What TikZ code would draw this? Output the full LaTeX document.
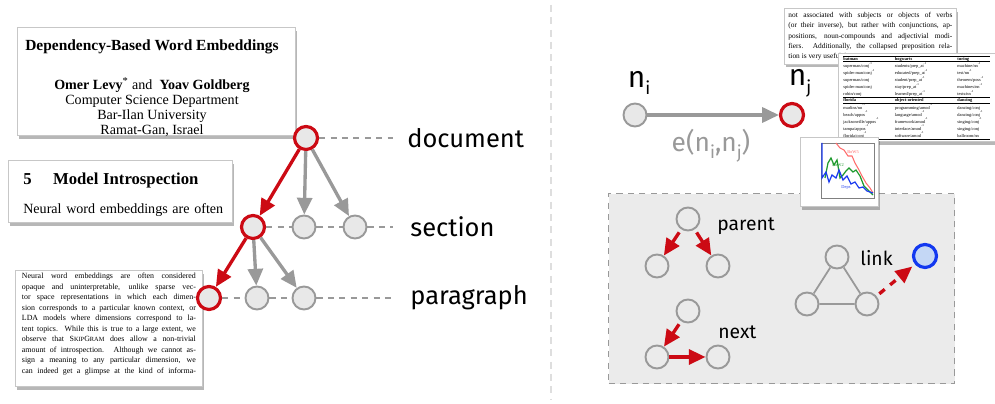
\documentclass[tikz,border=0pt]{standalone}
\usepackage{fontspec}
\setmainfont{Liberation Serif}
\newfontfamily\labelfont{Fira Sans}
\usetikzlibrary{arrows.meta,shadows}

\definecolor{nodefill}{HTML}{E8E8E8}
\definecolor{edgegray}{HTML}{999999}
\definecolor{pathred}{HTML}{CC0A14}
\definecolor{boxfill}{HTML}{EBEBEB}
\definecolor{linkfill}{HTML}{C4D7F5}
\definecolor{linkblue}{HTML}{1238F0}
\definecolor{curvered}{HTML}{FF6B6B}
\definecolor{curvegreen}{HTML}{1E9A2E}
\definecolor{curveblue}{HTML}{1C3CF0}

\newcommand{\inv}{\textsuperscript{-1}}
\newcommand{\lowsub}[1]{\raisebox{-0.5ex}{\fontsize{10}{10}\selectfont #1}}

\tikzset{
  treenode/.style={circle,draw=edgegray,fill=nodefill,line width=1.1pt,minimum size=0.46cm,inner sep=0pt},
  onpath/.style={draw=pathred,line width=1.8pt},
  ctxnode/.style={circle,draw=edgegray,line width=1.1pt,minimum size=0.46cm,inner sep=0pt},
  grayarrow/.style={draw=edgegray,line width=1.9pt,-{Triangle[length=9.5pt,width=8.5pt]}},
  redarrow/.style={draw=pathred,line width=1.9pt,-{Triangle[length=9.5pt,width=8.5pt]}},
  levelline/.style={draw=edgegray,line width=0.9pt,dash pattern=on 3.5pt off 3pt},
  paper/.style={draw=black!22,fill=white,line width=0.5pt,inner sep=0pt,
    drop shadow={opacity=0.4,fill=black!70,shadow xshift=1pt,shadow yshift=-1.8pt}},
  levellabel/.style={font=\labelfont\fontsize{14.5}{17}\selectfont,anchor=west,inner sep=0pt},
  ctxlabel/.style={font=\labelfont\fontsize{11}{13}\selectfont,anchor=west,inner sep=0pt},
}

\begin{document}
\begin{tikzpicture}[x=0.02cm,y=-0.02cm]
	\useasboundingbox (0,0) rectangle (995,404);

	% pages of the paper
	\node[paper,anchor=north west,minimum width=5.56cm,minimum height=2.16cm] (titlepg) at (17,27) {};
	\node[anchor=north,inner sep=0pt,align=center,font=\fontsize{8}{8.6}\selectfont] (titletxt) at (152,39) {%
		{\fontsize{8.8}{11}\selectfont\bfseries Dependency-Based Word Embeddings}\\[12.5pt]
		\textbf{Omer Levy}\textsuperscript{*} and \ \textbf{Yoav Goldberg}\\
		Computer Science Department\\
		Bar-Ilan University\\
		Ramat-Gan, Israel};
	\node[paper,anchor=north west,minimum width=4.48cm,minimum height=1.24cm] (secpg) at (8,160) {};
	\node[anchor=north west,inner sep=0pt,text width=4.12cm,
		font=\fontsize{8}{16}\selectfont] (sectxt) at (23,173) {%
		{\fontsize{9.5}{11}\selectfont\bfseries 5\quad\ Model Introspection}\\
		\makebox[4.12cm][s]{Neural word embeddings are often}};
	\node[paper,anchor=north west,text width=3.48cm,inner xsep=0.13cm,inner ysep=0.05cm,align=justify,
		font=\fontsize{4.5}{6.0}\selectfont] (parapg) at (15,270) {%
		Neural word embeddings are often considered\linebreak
		opaque and uninterpretable, unlike sparse vec-\linebreak
		tor space representations in which each dimen-\linebreak
		sion corresponds to a particular known context, or\linebreak
		LDA models where dimensions correspond to la-\linebreak
		tent topics. While this is true to a large extent, we\linebreak
		observe that S{\fontsize{3.6}{6}\selectfont KIP}G{\fontsize{3.6}{6}\selectfont RAM} does allow a non-trivial\linebreak
		amount of introspection. Although we cannot as-\linebreak
		sign a meaning to any particular dimension, we\linebreak
		can indeed get a glimpse at the kind of informa-\linebreak};

	% tree
	\node[treenode,onpath] (doc) at (306,138) {};
	\node[treenode,onpath] (sec1) at (253,227) {};
	\node[treenode] (sec2) at (304,227) {};
	\node[treenode] (sec3) at (355,227) {};
	\node[treenode,onpath] (par1) at (209,298) {};
	\node[treenode] (par2) at (257,298) {};
	\node[treenode] (par3) at (304,298) {};

	\node[levellabel] (doclbl) at (407,138) {document};
	\node[levellabel] (seclbl) at (410,227) {section};
	\node[levellabel] (parlbl) at (410,298) {paragraph};

	\draw[levelline,shorten >=0.28cm] (doc) -- (doclbl);
	\draw[levelline] (sec1) -- (sec2);
	\draw[levelline] (sec2) -- (sec3);
	\draw[levelline,shorten >=0.34cm] (sec3) -- (seclbl);
	\draw[levelline] (par1) -- (par2);
	\draw[levelline] (par2) -- (par3);
	\draw[levelline,shorten >=0.34cm] (par3) -- (parlbl);

	\draw[redarrow] (doc) -- (sec1);
	\draw[grayarrow] (doc) -- (sec2);
	\draw[grayarrow] (doc) -- (sec3);
	\draw[redarrow] (sec1) -- (par1);
	\draw[grayarrow] (sec1) -- (par2);
	\draw[grayarrow] (sec1) -- (par3);

	% divider
	\draw[black!13,line width=1.2pt,dash pattern=on 4pt off 3pt] (551,5) -- (551,400);

	% edge between two nodes
	\node[treenode] (ni) at (635,115) {};
	\node[treenode,onpath] (nj) at (792,115) {};
	\draw[grayarrow] (ni) -- (nj);
	\node[font=\labelfont\fontsize{17}{19}\selectfont] (nilbl) at (639,83) {n\lowsub{i}};
	\node[font=\labelfont\fontsize{17}{19}\selectfont] (njlbl) at (800,83) {n\lowsub{j}};
	\node[font=\labelfont\fontsize{15}{17}\selectfont,text=edgegray] (elbl) at (711,146)
		{e(n\lowsub{i},n\lowsub{j})};

	% context box
	\node[draw=edgegray,fill=boxfill,line width=0.8pt,dash pattern=on 3.5pt off 3pt,anchor=north west,
		minimum width=6.92cm,minimum height=3.8cm] (ctxbox) at (608,193) {};

	\node[ctxnode] (ptop) at (688,219) {};
	\node[ctxnode] (pleft) at (657,266) {};
	\node[ctxnode] (pright) at (718,266) {};
	\draw[redarrow,shorten <=2pt] (ptop) -- (pleft);
	\draw[redarrow,shorten <=2pt] (ptop) -- (pright);
	\node[ctxlabel] (plbl) at (717,226) {parent};

	\node[ctxnode] (ntop) at (688,311) {};
	\node[ctxnode] (nleft) at (657,357) {};
	\node[ctxnode] (nright) at (718,357) {};
	\draw[redarrow,shorten <=2pt] (ntop) -- (nleft);
	\draw[redarrow] (nleft) -- (nright);
	\node[ctxlabel] (nlbl) at (718,332) {next};

	\node[ctxnode] (ltop) at (837,257) {};
	\node[ctxnode] (lleft) at (807,304) {};
	\node[ctxnode] (lright) at (867,304) {};
	\node[circle,draw=linkblue,fill=linkfill,line width=1.8pt,minimum size=0.46cm,inner sep=0pt] (lnew) at (925,256) {};
	\draw[edgegray,line width=1pt] (ltop) -- (lleft) -- (lright) -- (ltop);
	\draw[redarrow,dash pattern=on 4pt off 4pt,shorten <=2pt,shorten >=2pt] (lright) -- (lnew);
	\node[ctxlabel] (llbl) at (860,258) {link};

	% snippets of the paper
	\node[paper,anchor=north west,text width=3.28cm,inner xsep=0.08cm,inner ysep=0.08cm,align=justify,
		font=\fontsize{4.2}{5.8}\selectfont] (txtpg) at (784,8) {%
		not associated with subjects or objects of verbs\linebreak
		(or their inverse), but rather with conjunctions, ap-\linebreak
		positions, noun-compounds and adjectivial modi-\linebreak
		fiers. Additionally, the collapsed preposition rela-\linebreak
		tion is very useful for capturing};
	\node[paper,anchor=north west,inner xsep=0.1cm,inner ysep=0.05cm,font=\fontsize{2.5}{2.75}\selectfont] (tablepg) at (838,53) {%
		\setlength{\tabcolsep}{1pt}%
		\begin{tabular}{@{}p{0.96cm}p{1.18cm}p{0.66cm}@{}}
			\hline
			\textbf{batman} & \textbf{hogwarts} & \textbf{turing}\\ \hline
			superman/conj\inv & students/prep\_at\inv & machine/nn\inv\\
			spider-man/conj\inv & educated/prep\_at\inv & test/nn\inv\\
			superman/conj & student/prep\_at\inv & theorem/poss\inv\\
			spider-man/conj & stay/prep\_at\inv & machines/nn\inv\\
			robin/conj & learned/prep\_at\inv & tests/nn\inv\\ \hline
			\textbf{florida} & \textbf{object-oriented} & \textbf{dancing}\\ \hline
			marlins/nn\inv & programming/amod\inv & dancing/conj\\
			beach/appos\inv & language/amod\inv & dancing/conj\inv\\
			jacksonville/appos\inv & framework/amod\inv & singing/conj\inv\\
			tampa/appos\inv & interface/amod\inv & singing/conj\\
			florida/conj\inv & software/amod\inv & ballroom/nn\\ \hline
		\end{tabular}};
	\node[paper,anchor=north west,minimum width=1.56cm,minimum height=1.38cm] (chartpg) at (800,137) {};
	\draw[black!50,line width=0.3pt] (821,143) rectangle (874,198);
	\draw[curvered,line width=0.6pt] plot coordinates {(836,143) (840,148) (844,150) (848,156) (852,156) (855,163) (859,170) (862,176) (866,183) (870,188) (873,193)};
	\draw[curvegreen,line width=0.7pt] plot coordinates {(825,178) (828,163) (831,158) (834,165) (837,160) (840,178) (843,175) (846,171) (849,168) (853,172) (856,170) (860,176) (864,186) (868,190) (873,195)};
	\draw[curveblue,line width=0.7pt] plot coordinates {(822,143) (822,178) (826,172) (829,182) (832,175) (836,178) (839,170) (843,180) (847,176) (851,184) (855,182) (859,188) (863,187) (867,191) (873,193)};
	\node[font=\fontsize{2.5}{3}\selectfont,text=curvered,inner sep=0pt] (redlbl) at (853,152) {BoW5};
	\node[font=\fontsize{2.5}{3}\selectfont,text=curvegreen,inner sep=0pt] (greenlbl) at (838,165) {BoW2};
	\node[font=\fontsize{2.5}{3}\selectfont,text=curveblue,inner sep=0pt] (bluelbl) at (846,188) {Deps};
\end{tikzpicture}
\end{document}
